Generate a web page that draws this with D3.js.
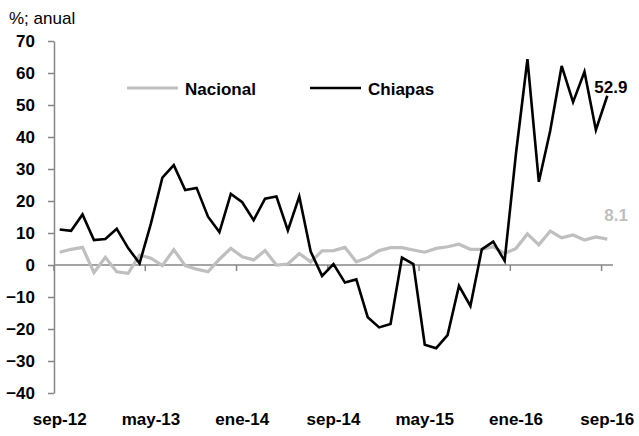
<!DOCTYPE html>
<html>
<head>
<meta charset="utf-8">
<script src="https://cdn.jsdelivr.net/npm/d3@7"></script>
<style>
  body { margin: 0; background: #fff; }
  svg text { font-family: "Liberation Sans", Arial, sans-serif; }
</style>
</head>
<body>
<div id="chart"></div>
<script>
// Meses en español, sep-12 a sep-16
const monthNames = ["ene", "feb", "mar", "abr", "may", "jun", "jul", "ago", "sep", "oct", "nov", "dic"];
const months = [];
for (let i = 0; i < 49; i++) {
  const m = (8 + i) % 12;
  const yr = 12 + Math.floor((8 + i) / 12);
  months.push(`${monthNames[m]}-${yr}`);
}

const tickLabels = ["sep-12", "may-13", "ene-14", "sep-14", "may-15", "ene-16", "sep-16"];
const yTicks = [-40, -30, -20, -10, 0, 10, 20, 30, 40, 50, 60, 70];

// Variación anual, %
const nacional = [
  4.0, 4.9, 5.5, -2.4, 2.4, -2.1, -2.6, 3.1, 2.1, -0.2,
  4.8, -0.2, -1.3, -2.1, 1.8, 5.2, 2.6, 1.6, 4.5, 0.0,
  0.3, 3.6, 1.0, 4.4, 4.5, 5.5, 1.0, 2.3, 4.5, 5.4,
  5.4, 4.7, 4.0, 5.2, 5.7, 6.5, 4.9, 4.9, 5.7, 3.6,
  5.2, 9.7, 6.3, 10.6, 8.5, 9.4, 7.8, 8.8, 8.1
];
const chiapas = [
  11.1, 10.7, 15.8, 7.8, 8.1, 11.3, 5.3, 0.5, 13.0, 27.3,
  31.2, 23.4, 24.1, 15.1, 10.3, 22.2, 19.6, 14.0, 20.7, 21.4,
  10.8, 21.4, 4.2, -3.4, 0.3, -5.5, -4.5, -16.3, -19.5, -18.4,
  2.3, 0.3, -24.9, -26.0, -21.9, -6.5, -12.8, 4.9, 7.3, 1.3,
  35.0, 64.3, 26.0, 42.0, 62.2, 50.9, 60.4, 42.2, 52.9
];

const W = 639, H = 436;
const grey = "#bfbfbf", axisGrey = "#868686";

const svg = d3.select("#chart").append("svg")
  .attr("width", W)
  .attr("height", H);

const x = d3.scaleBand().domain(months).range([54, 613]).padding(0);
const y = d3.scaleLinear().domain([-40, 70]).range([393, 41]);
const cx = m => x(m) + x.bandwidth() / 2;

// unidad
svg.append("text")
  .attr("x", 9).attr("y", 24)
  .style("font-size", "17px")
  .text("%; anual");

// eje Y
const yAxis = svg.append("g")
  .attr("transform", `translate(${x.range()[0]},0)`)
  .call(d3.axisLeft(y).tickValues(yTicks).tickSize(6).tickSizeOuter(0).tickPadding(13).tickFormat(d3.format("d")));
yAxis.select(".domain").attr("stroke", axisGrey).attr("stroke-width", 1.5);
yAxis.selectAll(".tick line").attr("stroke", axisGrey).attr("stroke-width", 1.5);
yAxis.selectAll(".tick text")
  .attr("fill", "#000")
  .style("font-size", "17px")
  .style("font-weight", "bold");

// eje X en cero
const xAxis = svg.append("g")
  .attr("transform", `translate(0,${y(0)})`);
xAxis.append("line")
  .attr("x1", x.range()[0]).attr("x2", x.range()[1])
  .attr("stroke", axisGrey).attr("stroke-width", 1.5);
xAxis.selectAll(".xt")
  .data(tickLabels)
  .enter().append("line")
  .attr("class", "xt")
  .attr("x1", d => x(d)).attr("x2", d => x(d))
  .attr("y1", 0).attr("y2", 6)
  .attr("stroke", axisGrey).attr("stroke-width", 1.5);

svg.selectAll(".xl")
  .data(tickLabels)
  .enter().append("text")
  .attr("class", "xl")
  .attr("x", d => cx(d))
  .attr("y", 425)
  .attr("text-anchor", "middle")
  .style("font-size", "17px")
  .style("font-weight", "bold")
  .text(d => d);

// líneas
const line = d3.line()
  .x((d, i) => cx(months[i]))
  .y(d => y(d));

svg.append("path")
  .datum(nacional)
  .attr("d", line)
  .attr("fill", "none")
  .attr("stroke", grey)
  .attr("stroke-width", 3.2)
  .attr("stroke-linejoin", "miter");

svg.append("path")
  .datum(chiapas)
  .attr("d", line)
  .attr("fill", "none")
  .attr("stroke", "#000")
  .attr("stroke-width", 2.6)
  .attr("stroke-linejoin", "miter");

// etiquetas del último dato
const last = months.length - 1;
svg.append("text")
  .attr("x", cx(months[last]) - 13)
  .attr("y", y(chiapas[last]) - 3)
  .style("font-size", "17px")
  .style("font-weight", "bold")
  .text(d3.format(".1f")(chiapas[last]));

svg.append("text")
  .attr("x", cx(months[last]) - 3)
  .attr("y", y(nacional[last]) - 18)
  .attr("fill", grey)
  .style("font-size", "17px")
  .style("font-weight", "bold")
  .text(d3.format(".1f")(nacional[last]));

// leyenda
const legend = [
  { name: "Nacional", color: grey, w: 3.2, x0: 127 },
  { name: "Chiapas", color: "#000", w: 2.6, x0: 310 }
];
const lg = svg.selectAll(".lg")
  .data(legend)
  .enter().append("g")
  .attr("class", "lg")
  .attr("transform", d => `translate(${d.x0},88)`);
lg.append("line")
  .attr("x1", 0).attr("x2", 51)
  .attr("stroke", d => d.color)
  .attr("stroke-width", d => d.w);
lg.append("text")
  .attr("x", 58).attr("y", 7)
  .style("font-size", "17px")
  .style("font-weight", "bold")
  .text(d => d.name);
</script>
</body>
</html>
